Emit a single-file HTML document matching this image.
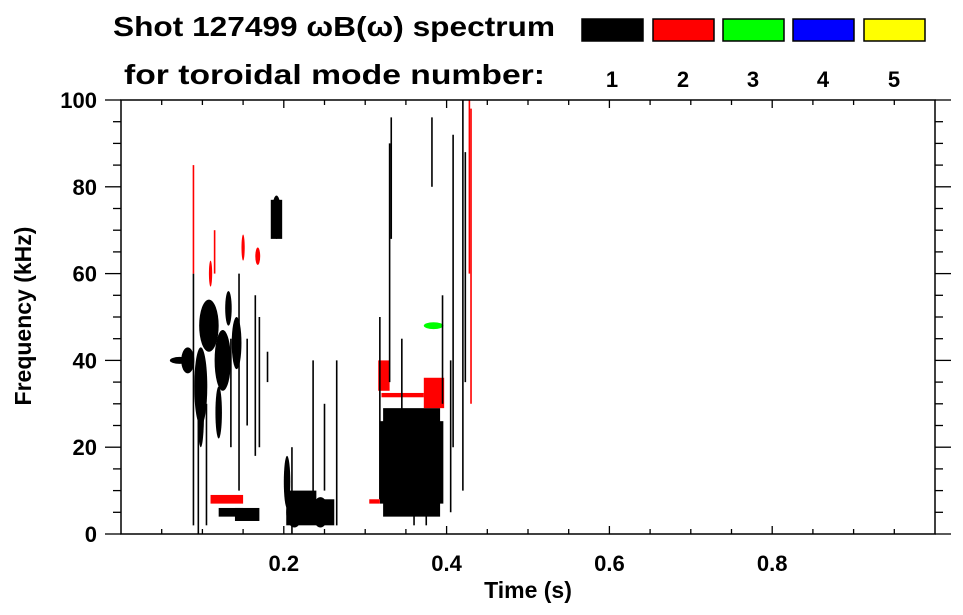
<!DOCTYPE html>
<html><head><meta charset="utf-8">
<style>
html,body{margin:0;padding:0;background:#fff;}
svg{display:block;font-family:"Liberation Sans",Arial,sans-serif;font-weight:bold;}
</style></head>
<body>
<svg id="chart" width="963" height="615" viewBox="0 0 963 615" xmlns="http://www.w3.org/2000/svg">
  <text x="113" y="36" font-size="28" textLength="442" lengthAdjust="spacingAndGlyphs">Shot 127499 ωB(ω) spectrum</text>
  <text x="124" y="84" font-size="28" textLength="421" lengthAdjust="spacingAndGlyphs">for toroidal mode number:</text>
  <g id="legend"></g>
  <g id="marks"></g>
  <g id="axes"></g>
  <text x="528" y="598" font-size="23" text-anchor="middle">Time (s)</text>
  <text transform="translate(31,316) rotate(-90)" font-size="23" text-anchor="middle">Frequency (kHz)</text>
</svg>
<script>
// ---- data ----
const modeColors = ["#000000","#ff0000","#00ff00","#0000ff","#ffff00"];
const modeLabels = ["1","2","3","4","5"];
const xTicks = [0.2,0.4,0.6,0.8];
const xTickLabels = ["0.2","0.4","0.6","0.8"];
const yTicks = [0,20,40,60,80,100];
const yTickLabels = ["0","20","40","60","80","100"];
// rectangles: time start, time end (s), freq start, freq end (kHz), mode
const rectT0 = [0.318,0.322,0.372,0.320,0.316,0.203,0.207,0.140,0.120,0.184,0.110,0.305];
const rectT1 = [0.396,0.392,0.397,0.372,0.330,0.262,0.240,0.170,0.150,0.198,0.150,0.318];
const rectF0 = [7,    4,    29,   31.5, 33,   2,    6,    3,    4,    68,   7,    7];
const rectF1 = [26,   29,   36,   32.5, 40,   8,    10,   6,    6,    77,   9,    8];
const rectMode=[1,    1,    2,    2,    2,    1,    1,    1,    1,    1,    2,    2];
// blobs: centre time (s), centre freq (kHz), half-width (s), half-height (kHz), mode
const blobT  = [0.213,0.245,0.204,0.191,0.108,0.098,0.125,0.142,0.082,0.072,0.120,0.384,0.168,0.098,0.132,0.110,0.150];
const blobF  = [5,    5,    12,   73,   48,   34,   40,   44,   40,   40,   28,   48,   64,   28,   52,   60,   66];
const blobDT = [0.010,0.010,0.004,0.006,0.012,0.008,0.010,0.006,0.008,0.012,0.004,0.012,0.003,0.004,0.004,0.002,0.002];
const blobDF = [3.5,  3.5,  6,    5,    6,    9,    7,    6,    3,    0.8,  6,    0.8,  2,    8,    4,    3,    3];
const blobMode=[1,    1,    1,    1,    1,    1,    1,    1,    1,    1,    1,    3,    2,    1,    1,    2,    2];
// streaks: time (s), freq start, freq end (kHz), mode
const streakT  = [0.089,0.089,0.408,0.423,0.428,0.420,0.145,0.165,0.170,0.210,0.265,0.236,0.330,0.332,0.382,0.095,0.105,0.180,0.318,0.395,0.405,0.430,0.115,0.250,0.135,0.155,0.345,0.360,0.375];
const streakF0 = [2,    60,   20,   35,   60,   10,   10,   18,   20,   0,    2,    8,    35,   68,   80,   0,    2,    35,   8,    30,   5,    30,   60,   10,   20,   25,   28,   2,    2];
const streakF1 = [60,   85,   92,   88,   100,  100,  60,   55,   50,   20,   40,   40,   90,   96,   96,   40,   30,   42,   50,   55,   40,   98,   70,   30,   45,   45,   45,   6,    6];
const streakMode=[1,    2,    1,    1,    2,    1,    1,    1,    1,    1,    1,    1,    1,    1,    1,    1,    1,    1,    1,    1,    1,    2,    2,    1,    1,    1,    1,    1,    1];

// ---- scales ----
const X0=121, X1=935, Y0=534, Y1=100;
const xs = t => X0 + (t-0)/(1-0)*(X1-X0);
const ys = f => Y0 - (f-0)/(100-0)*(Y0-Y1);
const NS="http://www.w3.org/2000/svg";
function mk(tag, attrs, parent){const e=document.createElementNS(NS,tag);for(const k in attrs)e.setAttribute(k,attrs[k]);parent.appendChild(e);return e;}

// legend
const lg=document.getElementById('legend');
const lgX=[582,653,723,793,864];
modeColors.forEach((c,i)=>{
  const r=mk('rect',{x:lgX[i],y:19,width:61,height:22,fill:c,stroke:'#000','stroke-width':1.5},lg);
  
  
  const t=mk('text',{x:lgX[i]+30,y:87,'font-size':22,'text-anchor':'middle'},lg);
  t.textContent=modeLabels[i];
  
  
});

// marks
const mg=document.getElementById('marks');
for(let i=0;i<rectT0.length;i++){
  const r=mk('rect',{x:xs(rectT0[i]),y:ys(rectF1[i]),width:xs(rectT1[i])-xs(rectT0[i]),height:ys(rectF0[i])-ys(rectF1[i]),fill:modeColors[rectMode[i]-1]},mg);
  
  
}
for(let i=0;i<blobT.length;i++){
  const e=mk('ellipse',{cx:xs(blobT[i]),cy:ys(blobF[i]),rx:Math.abs(xs(blobDT[i])-xs(0)),ry:Math.abs(ys(0)-ys(blobDF[i])),fill:modeColors[blobMode[i]-1]},mg);
  
  
}
for(let i=0;i<streakT.length;i++){
  const l=mk('line',{x1:xs(streakT[i]),x2:xs(streakT[i]),y1:ys(streakF0[i]),y2:ys(streakF1[i]),stroke:modeColors[streakMode[i]-1],'stroke-width':1.6},mg);
  
  
}

// axes
const ag=document.getElementById('axes');
const frame=mk('rect',{x:X0,y:Y1,width:X1-X0,height:Y0-Y1,fill:'none',stroke:'#000','stroke-width':1.5},ag);


for(let k=1;k<20;k++){
  const x=xs(k*0.05), major=(k%4===0);
  mk('line',{x1:x,x2:x,y1:Y0,y2:Y0-(major?8:5),stroke:'#000','stroke-width':1.3},ag);
  mk('line',{x1:x,x2:x,y1:Y1,y2:Y1+(major?8:5),stroke:'#000','stroke-width':1.3},ag);
}
for(let k=0;k<=20;k++){
  const y=ys(k*5), major=(k%4===0);
  mk('line',{x1:X0,x2:X0-(major?16:8),y1:y,y2:y,stroke:'#000','stroke-width':1.3},ag);
  mk('line',{x1:X1,x2:X1+(major?16:8),y1:y,y2:y,stroke:'#000','stroke-width':1.3},ag);
}
xTicks.forEach((v,i)=>{
  const t=mk('text',{x:xs(v),y:571,'font-size':22,'text-anchor':'middle'},ag);
  t.textContent=xTickLabels[i];
  
  
});
yTicks.forEach((v,i)=>{
  const t=mk('text',{x:97,y:ys(v)+8,'font-size':22,'text-anchor':'end'},ag);
  t.textContent=yTickLabels[i];
  
  
});
</script>
</body></html>
